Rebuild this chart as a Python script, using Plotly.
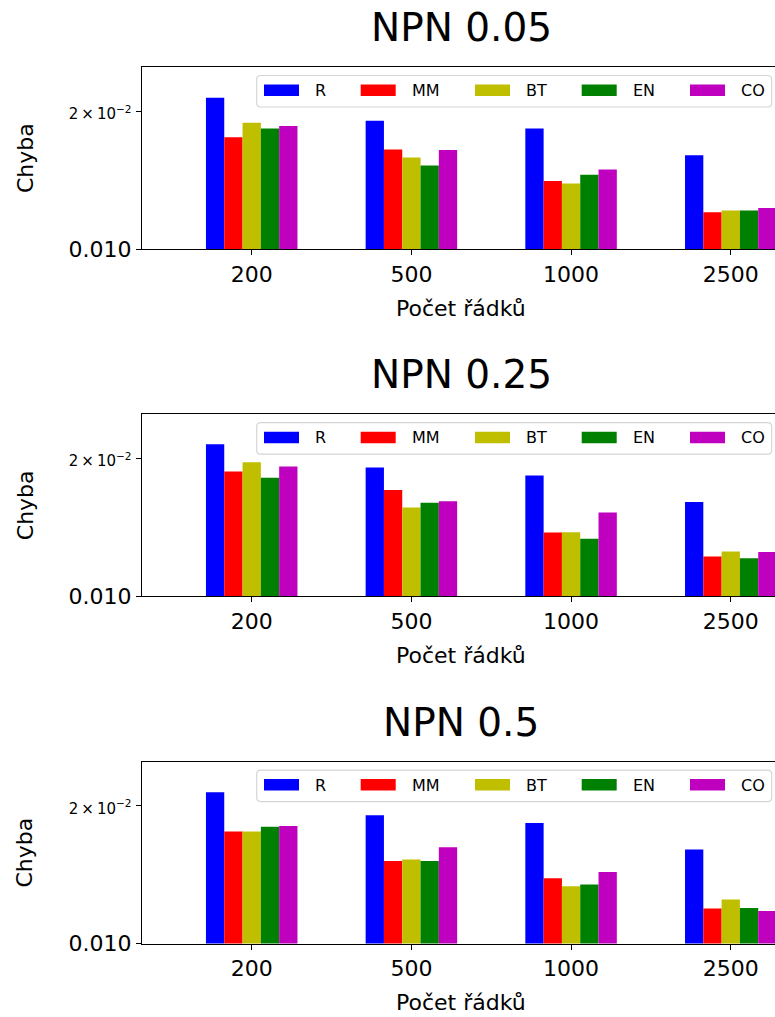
import plotly.graph_objects as go

# ---------------- data ----------------
rows = ["200", "500", "1000", "2500"]
methods = ["R", "MM", "BT", "EN", "CO"]
titles = ["NPN 0.05", "NPN 0.25", "NPN 0.5"]
x_label = "Počet řádků"
y_label = "Chyba"
y_tick_vals = [0.01, 0.02]
y_tick_text = ["0.010", "<span style='font-size:15px'>2\u2009×\u200910<sup>−2</sup></span>"]

npn005_R = [0.02142, 0.01908, 0.01834, 0.01603]
npn005_MM = [0.01755, 0.01650, 0.01409, 0.01204]
npn005_BT = [0.01889, 0.01585, 0.01391, 0.01214]
npn005_EN = [0.01834, 0.01522, 0.01453, 0.01214]
npn005_CO = [0.01858, 0.01647, 0.01492, 0.01229]

npn025_R = [0.02150, 0.01911, 0.01836, 0.01606]
npn025_MM = [0.01874, 0.01708, 0.01378, 0.01221]
npn025_BT = [0.01964, 0.01563, 0.01380, 0.01252]
npn025_EN = [0.01815, 0.01600, 0.01335, 0.01211]
npn025_CO = [0.01921, 0.01614, 0.01524, 0.01250]

npn05_R = [0.02143, 0.01909, 0.01836, 0.01606]
npn05_MM = [0.01758, 0.01516, 0.01390, 0.01193]
npn05_BT = [0.01758, 0.01527, 0.01335, 0.01248]
npn05_EN = [0.01800, 0.01516, 0.01346, 0.01196]
npn05_CO = [0.01809, 0.01624, 0.01434, 0.01178]

panels = [
    [npn005_R, npn005_MM, npn005_BT, npn005_EN, npn005_CO],
    [npn025_R, npn025_MM, npn025_BT, npn025_EN, npn025_CO],
    [npn05_R, npn05_MM, npn05_BT, npn05_EN, npn05_CO],
]

# ---------------- style / layout ----------------
colors = ["#0000ff", "#ff0000", "#bfbf00", "#008000", "#bf00bf"]
FONT = "DejaVu Sans"
W = 775
H_REF = 1017          # layout positions below are in reference pixels
H_FIG = 1030          # figure height
ML = 142
panel_tops = [67, 414.2, 761.6]
PANEL_H = 182
x_range = [-0.687, 3.277]
y_range = [-2.0, -1.602]

legend_patch_left = [264, 360.7, 475, 581.7, 690]
legend_patch_w = 35
legend_text_dx = 49
legend_box = (256.7, 771.7, 8.5, 40)  # x0, x1, dy_top, dy_bottom (px from panel top)


def xp(px):
    return (px - ML) / (W - ML)


def yp(py):
    return 1 - py / H_REF


fig = go.Figure()
shapes = []
annotations = []

for p, series in enumerate(panels):
    sfx = "" if p == 0 else str(p + 1)
    for m, vals in enumerate(series):
        fig.add_trace(go.Bar(
            x=rows, y=vals, name=methods[m],
            marker=dict(color=colors[m], line=dict(width=0)),
            xaxis="x" + sfx, yaxis="y" + sfx, showlegend=False,
        ))
    top = panel_tops[p]
    bot = top + PANEL_H
    fig.update_layout(**{
        "xaxis" + sfx: dict(
            domain=[0, 1], anchor="y" + sfx, type="category",
            categoryorder="array", categoryarray=rows, range=x_range,
            showline=True, linecolor="black", linewidth=1.2, mirror=True,
            ticks="outside", ticklen=5, tickwidth=1.2, tickcolor="black",
            tickfont=dict(family=FONT, size=22, color="black"),
            showgrid=False, zeroline=False, fixedrange=True,
        ),
        "yaxis" + sfx: dict(
            domain=[yp(bot), yp(top)], anchor="x" + sfx, type="log",
            range=y_range, showline=True, linecolor="black", linewidth=1.2,
            ticks="outside", ticklen=5, tickwidth=1.2, tickcolor="black",
            tickvals=y_tick_vals, ticktext=y_tick_text,
            tickfont=dict(family=FONT, size=22, color="black"),
            showgrid=False, zeroline=False, fixedrange=True,
        ),
    })

    # title
    annotations.append(dict(
        text=titles[p], xref="paper", yref="paper", x=xp(461), y=yp(top - 39.5),
        xanchor="center", yanchor="middle", showarrow=False,
        font=dict(family=FONT, size=39, color="black")))
    # x label
    annotations.append(dict(
        text=x_label, xref="paper", yref="paper", x=xp(461), y=yp(bot + 59),
        xanchor="center", yanchor="middle", showarrow=False,
        font=dict(family=FONT, size=22, color="black")))
    # y label
    annotations.append(dict(
        text=y_label, xref="paper", yref="paper", x=xp(25), y=yp((top + bot) / 2),
        xanchor="center", yanchor="middle", showarrow=False, textangle=-90,
        font=dict(family=FONT, size=22, color="black")))

    # legend box (rounded)
    bx0, bx1, dyt, dyb = legend_box
    by0, by1 = top + dyt, top + dyb
    r = 4
    path = (
        f"M {xp(bx0 + r)},{yp(by0)} L {xp(bx1 - r)},{yp(by0)} "
        f"Q {xp(bx1)},{yp(by0)} {xp(bx1)},{yp(by0 + r)} "
        f"L {xp(bx1)},{yp(by1 - r)} Q {xp(bx1)},{yp(by1)} {xp(bx1 - r)},{yp(by1)} "
        f"L {xp(bx0 + r)},{yp(by1)} Q {xp(bx0)},{yp(by1)} {xp(bx0)},{yp(by1 - r)} "
        f"L {xp(bx0)},{yp(by0 + r)} Q {xp(bx0)},{yp(by0)} {xp(bx0 + r)},{yp(by0)} Z"
    )
    shapes.append(dict(type="path", path=path, xref="paper", yref="paper",
                       fillcolor="rgba(255,255,255,0.8)",
                       line=dict(color="#d5d5d5", width=1.2), layer="above"))
    for m in range(len(methods)):
        x0 = legend_patch_left[m]
        shapes.append(dict(type="rect", xref="paper", yref="paper",
                           x0=xp(x0), x1=xp(x0 + legend_patch_w),
                           y0=yp(top + 17.5), y1=yp(top + 29),
                           fillcolor=colors[m], line=dict(width=0), layer="above"))
        annotations.append(dict(
            text=methods[m], xref="paper", yref="paper",
            x=xp(x0 + legend_text_dx), y=yp(top + 23.5),
            xanchor="left", yanchor="middle", showarrow=False,
            font=dict(family=FONT, size=16, color="black")))

fig.update_layout(
    width=W, height=H_FIG,
    margin=dict(l=ML, r=0, t=0, b=0, pad=0),
    paper_bgcolor="white", plot_bgcolor="white",
    barmode="group", bargap=0.427, bargroupgap=0,
    shapes=shapes, annotations=annotations,
    font=dict(family=FONT, color="black"),
    showlegend=False,
)

post = "document.body.style.margin='0';"

fig.write_html("out.html", config={"displayModeBar": False}, post_script=post)
